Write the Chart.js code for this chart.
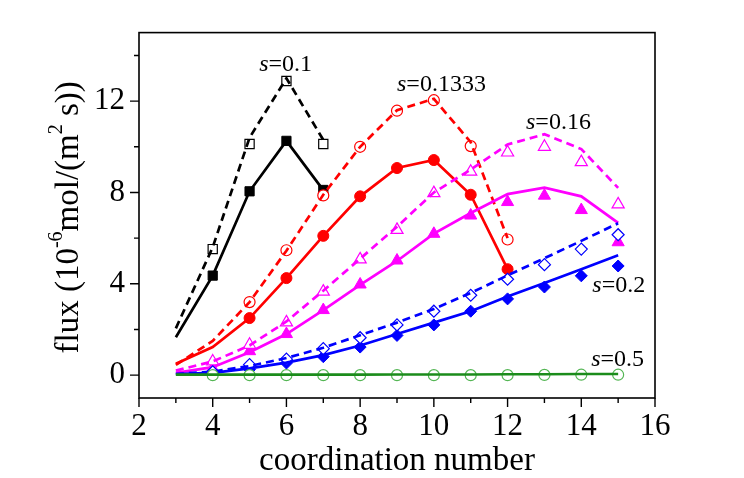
<!DOCTYPE html>
<html lang="en">
<head>
<meta charset="utf-8">
<title>Flux vs coordination number</title>
<script src="https://cdn.jsdelivr.net/npm/chart.js@4.4.0/dist/chart.umd.min.js"></script>
<style>
  body { margin: 0; background: #fff; }
  #wrap { width: 744px; height: 478px; }
</style>
</head>
<body>
<div id="wrap"><canvas id="chart" width="744" height="478"></canvas></div>
<script>
// curves are given at every coordination number from 3, points from 4
const lineX = [3, 4, 5, 6, 7, 8, 9, 10, 11, 12, 13, 14, 15];
const markX = [4, 5, 6, 7, 8, 9, 10, 11, 12, 13, 14, 15];

// s = 0.1 (ends at 7)
const s1Dash   = [2.05, 5.6, 10.4, 13.0, 10.3];
const s1Solid  = [1.66, 4.36, 8.05, 10.26, 8.1];
const s1Open   = [5.52, 10.12, 12.88, 10.12];
const s1Filled = [4.36, 8.05, 10.26, 8.11];

// s = 0.1333 (ends at 12, points start at 5)
const s2Dash   = [0.45, 1.5, 3.2, 5.45, 7.9, 10.0, 11.6, 12.1, 10.2, 6.0];
const s2Solid  = [0.5, 1.23, 2.5, 4.25, 6.1, 7.83, 9.07, 9.42, 7.9, 4.64];
const s2Open   = [3.2, 5.47, 7.87, 10.0, 11.58, 12.04, 10.03, 5.94];
const s2Filled = [2.5, 4.25, 6.1, 7.83, 9.07, 9.42, 7.9, 4.64];

// s = 0.16
const s3Dash   = [0.2, 0.6, 1.3, 2.35, 3.7, 5.1, 6.5, 8.0, 9.0, 10.1, 10.55, 9.9, 8.2];
const s3Solid  = [0.1, 0.35, 1.0, 1.8, 2.85, 3.95, 5.0, 6.2, 7.1, 7.93, 8.21, 7.83, 6.67];
const s3Open   = [0.6, 1.33, 2.31, 3.66, 5.07, 6.36, 7.97, 8.91, 9.75, 10.0, 9.33, 7.48];
const s3Filled = [0.3, 1.05, 1.8, 2.85, 3.97, 5.02, 6.19, 6.99, 7.58, 7.86, 7.23, 5.82];

// s = 0.2
const s4Dash   = [0.05, 0.15, 0.4, 0.75, 1.2, 1.75, 2.3, 2.9, 3.6, 4.37, 5.12, 5.88, 6.65];
const s4Solid  = [0.05, 0.1, 0.3, 0.55, 0.88, 1.3, 1.8, 2.3, 2.8, 3.44, 4.04, 4.64, 5.25];
const s4Open   = [0.15, 0.46, 0.7, 1.16, 1.64, 2.2, 2.8, 3.5, 4.2, 4.84, 5.52, 6.15];
const s4Filled = [0.08, 0.25, 0.53, 0.81, 1.23, 1.74, 2.2, 2.8, 3.34, 3.86, 4.35, 4.78];

// s = 0.5
const s5Solid  = [0.02, 0.02, 0.02, 0.02, 0.02, 0.02, 0.03, 0.03, 0.03, 0.04, 0.04, 0.05, 0.05];
const s5Open   = [0, 0, 0, 0, 0, 0, 0, 0, 0, 0.01, 0.02, 0.02];

const xTicks = [2, 4, 6, 8, 10, 12, 14, 16];
const xMinor = [3, 5, 7, 9, 11, 13, 15];
const yTicks = [0, 4, 8, 12];
const yMinor = [2, 6, 10, 14];

const curveNames = ['0.1', '0.1333', '0.16', '0.2', '0.5'];
const curveLabelAt = [[5.26, 13.32], [9.0, 12.44], [12.5, 10.76], [14.3, 3.66], [14.27, 0.39]];

const SERIF = '"Liberation Serif", "Times New Roman", serif';

function pts(xs, ys) {
  return ys.map((v, i) => ({x: xs[i], y: v}));
}

function curve(ys, color, dashed) {
  return {
    data: pts(lineX, ys), showLine: true, pointRadius: 0,
    borderColor: color, borderWidth: 2.7, borderDash: dashed ? [8, 5] : [],
    fill: false
  };
}

function marks(xs, ys, color, style, filled, r) {
  return {
    data: pts(xs, ys), showLine: false, pointStyle: style, pointRadius: r,
    borderColor: color, backgroundColor: filled ? color : '#fff',
    pointBorderWidth: filled ? 1 : 1.2
  };
}

const GREEN = '#1b8c1b';

const datasets = [
  curve(s5Solid, GREEN, false),
  marks(markX, s5Open, '#55b655', 'circle', false, 5.5),

  curve(s4Dash, '#0000ff', true),
  curve(s4Solid, '#0000ff', false),
  marks(markX, s4Open, '#0000ff', 'rectRot', false, 6),
  marks(markX, s4Filled, '#0000ff', 'rectRot', true, 6),

  curve(s3Dash, '#ff00ff', true),
  curve(s3Solid, '#ff00ff', false),
  marks(markX, s3Open, '#ff00ff', 'triangle', false, 7),
  marks(markX, s3Filled, '#ff00ff', 'triangle', true, 7),

  curve(s2Dash, '#ff0000', true),
  curve(s2Solid, '#ff0000', false),
  marks(markX.slice(1), s2Open, '#ff0000', 'circle', false, 5.5),
  marks(markX.slice(1), s2Filled, '#ff0000', 'circle', true, 5.5),

  curve(s1Dash, '#000000', true),
  curve(s1Solid, '#000000', false),
  marks(markX, s1Open, '#000000', 'rect', false, 6.5),
  marks(markX, s1Filled, '#000000', 'rect', true, 6.5)
];

// frame, minor/major ticks, curve names and the y title with superscripts
const decorations = {
  id: 'decorations',
  beforeDraw(chart) {
    const ctx = chart.ctx;
    ctx.save();
    ctx.fillStyle = '#fff';
    ctx.fillRect(0, 0, chart.width, chart.height);
    ctx.restore();
  },
  afterDraw(chart) {
    const {ctx, chartArea: a, scales: {x, y}} = chart;
    ctx.save();
    ctx.strokeStyle = '#000';
    ctx.lineWidth = 1.6;
    ctx.strokeRect(a.left, a.top, a.right - a.left, a.bottom - a.top);

    ctx.lineWidth = 1.4;
    ctx.beginPath();
    xTicks.forEach(v => { const p = x.getPixelForValue(v); ctx.moveTo(p, a.bottom); ctx.lineTo(p, a.bottom + 9); });
    xMinor.forEach(v => { const p = x.getPixelForValue(v); ctx.moveTo(p, a.bottom); ctx.lineTo(p, a.bottom + 5); });
    yTicks.forEach(v => { const p = y.getPixelForValue(v); ctx.moveTo(a.left, p); ctx.lineTo(a.left - 9, p); });
    yMinor.forEach(v => { const p = y.getPixelForValue(v); ctx.moveTo(a.left, p); ctx.lineTo(a.left - 5, p); });
    ctx.stroke();

    // curve names: italic s then "=value"
    ctx.fillStyle = '#000';
    ctx.textBaseline = 'alphabetic';
    ctx.textAlign = 'left';
    curveNames.forEach((name, i) => {
      let px = x.getPixelForValue(curveLabelAt[i][0]);
      const py = y.getPixelForValue(curveLabelAt[i][1]);
      ctx.font = 'italic 24px ' + SERIF;
      ctx.fillText('s', px, py);
      px += ctx.measureText('s').width;
      ctx.font = '24px ' + SERIF;
      ctx.fillText('=' + name, px, py);
    });

    // y axis title
    const parts = [
      {t: 'flux (10', sup: false},
      {t: '-6', sup: true},
      {t: 'mol/(m', sup: false},
      {t: '2', sup: true},
      {t: ' s))', sup: false}
    ];
    const big = '33px ' + SERIF, small = '20px ' + SERIF;
    let total = 0;
    parts.forEach(p => { ctx.font = p.sup ? small : big; p.w = ctx.measureText(p.t).width; total += p.w; });
    ctx.translate(69, (a.top + a.bottom) / 2 + 2);
    ctx.rotate(-Math.PI / 2);
    ctx.textBaseline = 'middle';
    let cx = -total / 2;
    parts.forEach(p => {
      ctx.font = p.sup ? small : big;
      ctx.fillText(p.t, cx, p.sup ? -12 : 0);
      cx += p.w;
    });
    ctx.restore();
  }
};

new Chart(document.getElementById('chart'), {
  type: 'scatter',
  data: {datasets: datasets},
  options: {
    responsive: false,
    animation: false,
    layout: {padding: {top: 17, right: 89, left: 0, bottom: 0}},
    plugins: {legend: {display: false}, tooltip: {enabled: false}},
    scales: {
      x: {
        type: 'linear', min: 2, max: 16,
        afterBuildTicks: s => { s.ticks = xTicks.map(v => ({value: v})); },
        afterFit: s => { s.height = 80; },
        grid: {display: false, drawTicks: false},
        border: {display: false},
        ticks: {color: '#000', padding: 10, maxRotation: 0, font: {family: SERIF, size: 31}},
        title: {display: true, text: 'coordination number', color: '#000',
                padding: {top: 0, bottom: 0}, font: {family: SERIF, size: 33, lineHeight: 1}}
      },
      y: {
        type: 'linear', min: -1, max: 15,
        afterBuildTicks: s => { s.ticks = yTicks.map(v => ({value: v})); },
        afterFit: s => { s.width = 139; },
        grid: {display: false, drawTicks: false},
        border: {display: false},
        ticks: {color: '#000', padding: 14, font: {family: SERIF, size: 31}}
      }
    }
  },
  plugins: [decorations]
});
</script>
</body>
</html>
